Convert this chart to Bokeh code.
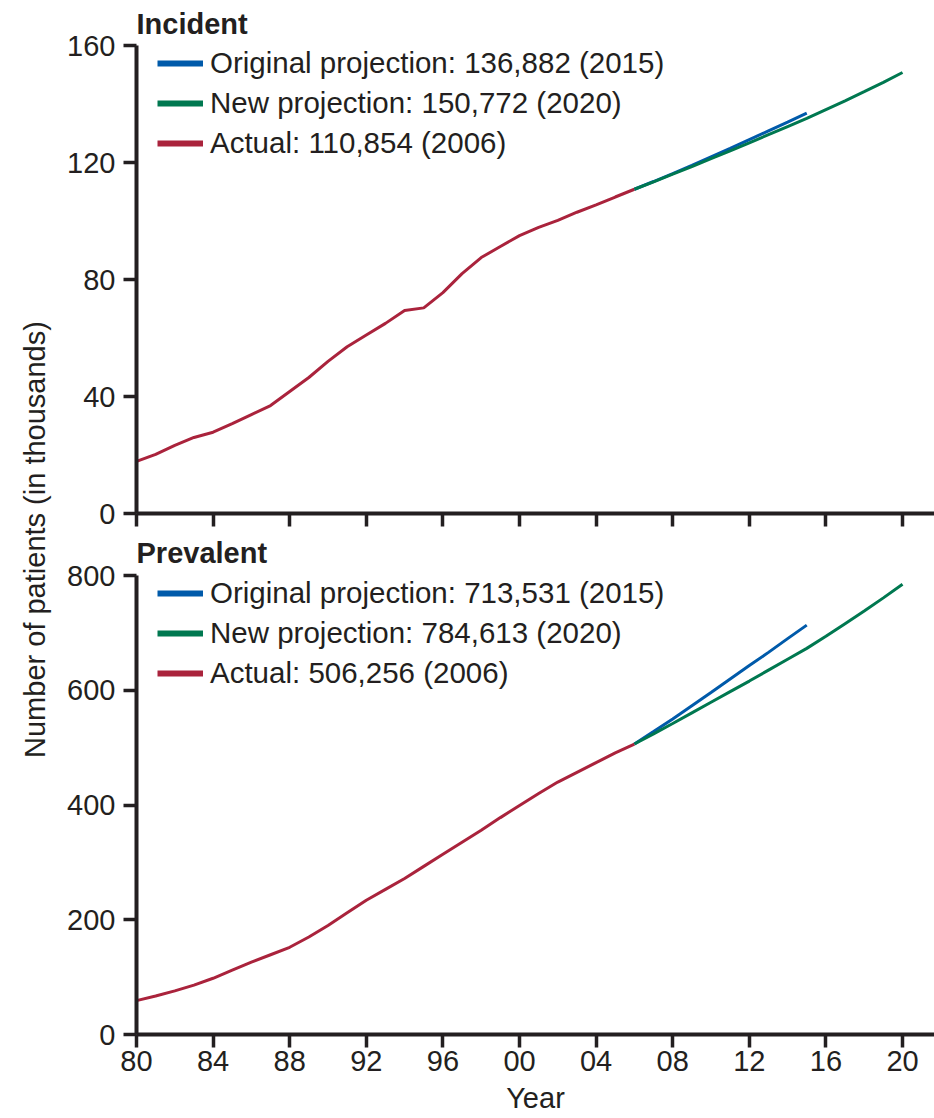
import math
from bokeh.plotting import figure
from bokeh.models import (Legend, LegendItem, FixedTicker, Label, Range1d,
                          CustomLabelingPolicy)
from bokeh.layouts import row, column
from bokeh.embed import file_html
from bokeh.resources import INLINE

# ---------------- data ----------------
years_actual = list(range(1980, 2007))
years_orig = list(range(2006, 2016))
years_new = list(range(2006, 2021))

incident_actual = [17.8, 20.2, 23.3, 26.0, 27.8, 30.7, 33.8, 36.9, 41.7, 46.5,
                   52.0, 57.0, 61.0, 65.0, 69.4, 70.3, 75.5, 82.0, 87.5, 91.3,
                   95.0, 97.8, 100.2, 103.0, 105.5, 108.2, 110.854]
incident_orig = [110.854, 113.5, 116.2, 119.0, 121.9, 124.8, 127.8, 130.8, 133.8, 136.882]
incident_new = [110.854, 113.4, 116.0, 118.6, 121.3, 124.0, 126.7, 129.5, 132.3, 135.1,
                138.1, 141.1, 144.2, 147.4, 150.772]

prevalent_actual = [59, 67, 76, 86, 98, 112, 126, 139, 152, 170,
                    190, 212, 234, 253, 272, 293, 314, 335, 356, 378,
                    399, 420, 440, 457, 474, 491, 506.256]
prevalent_orig = [506.256, 528, 550, 573, 596, 619.5, 643, 666, 690, 713.531]
prevalent_new = [506.256, 524, 542, 560.5, 579, 597.5, 616, 635, 654, 673,
                 694, 716, 738, 761, 784.613]

incident_labels = ["Original projection: 136,882 (2015)",
                   "New projection: 150,772 (2020)",
                   "Actual: 110,854 (2006)"]
prevalent_labels = ["Original projection: 713,531 (2015)",
                    "New projection: 784,613 (2020)",
                    "Actual: 506,256 (2006)"]

tick_years = [1980, 1984, 1988, 1992, 1996, 2000, 2004, 2008, 2012, 2016, 2020]
tick_labels = ["80", "84", "88", "92", "96", "00", "04", "08", "12", "16", "20"]
incident_ticks = [0, 40, 80, 120, 160]
prevalent_ticks = [0, 200, 400, 600, 800]

panel_titles = ["Incident", "Prevalent"]
y_label = "Number of patients (in thousands)"
x_label = "Year"

# ---------------- style ----------------
FONT = "Liberation Sans"
FS = "29px"
LFS = "29.5px"
TXT = "#231F20"
BLUE = "#005AAA"
GREEN = "#007850"
RED = "#AA233C"

x_range = Range1d(1980, 2021.67)


def style_axes(p, yticks):
    for ax in [p.xaxis[0], p.yaxis[0]]:
        ax.axis_line_color = TXT
        ax.axis_line_width = 4
        ax.major_tick_line_color = TXT
        ax.major_tick_line_width = 3.5
        ax.major_tick_out = 13
        ax.major_tick_in = 0
        ax.minor_tick_line_color = None
        ax.major_label_text_font = FONT
        ax.major_label_text_font_size = FS
        ax.major_label_text_color = TXT
    p.xaxis[0].ticker = FixedTicker(ticks=tick_years)
    p.xaxis[0].major_label_overrides = {t: l for t, l in zip(tick_years, tick_labels)}
    p.yaxis[0].ticker = FixedTicker(ticks=yticks)
    p.yaxis[0].major_label_standoff = 8
    p.xgrid.visible = False
    p.ygrid.visible = False
    p.outline_line_color = None


def make_panel(title, height, yend, yticks, actual, orig, new, labels,
               border_top, border_bottom, title_standoff, legend_loc, show_xlabels):
    p = figure(width=874, height=height, x_range=x_range, y_range=Range1d(0, yend),
               output_backend="svg", toolbar_location=None,
               min_border_left=76, min_border_right=0,
               min_border_top=border_top, min_border_bottom=border_bottom)
    p.title.text = title
    p.title.text_font = FONT
    p.title.text_font_size = FS
    p.title.text_font_style = "bold"
    p.title.text_color = TXT
    p.title.align = "left"
    p.title.standoff = title_standoff
    style_axes(p, yticks)
    if not show_xlabels:
        p.xaxis[0].major_label_text_font_size = "0px"
        p.xaxis[0].major_label_standoff = 0
        p.xaxis[0].major_label_policy = CustomLabelingPolicy(
            code="for (const i of [...indices]) { indices.unset(i) }")

    p.line(years_actual, actual, line_color=RED, line_width=3)
    p.line(years_orig, orig, line_color=BLUE, line_width=3)
    p.line(years_new, new, line_color=GREEN, line_width=3)

    # legend key proxies (single point -> nothing drawn in the plot, thick key line)
    lb = p.line(years_orig[:1], orig[:1], line_color=BLUE, line_width=6)
    lg = p.line(years_new[:1], new[:1], line_color=GREEN, line_width=6)
    lr = p.line(years_actual[:1], actual[:1], line_color=RED, line_width=6)
    legend = Legend(items=[LegendItem(label=labels[0], renderers=[lb]),
                           LegendItem(label=labels[1], renderers=[lg]),
                           LegendItem(label=labels[2], renderers=[lr])],
                    location=legend_loc, margin=0, padding=0, spacing=6,
                    glyph_width=46, glyph_height=32, label_height=32,
                    label_standoff=7, label_text_font=FONT,
                    label_text_font_size=LFS, label_text_color=TXT,
                    background_fill_alpha=0, border_line_alpha=0)
    p.add_layout(legend)
    return p


p1 = make_panel(panel_titles[0], 528, 160, incident_ticks, incident_actual,
                incident_orig, incident_new, incident_labels, 45, 15, 11, (21, 353), False)
p2 = make_panel(panel_titles[1], 588, 800, prevalent_ticks, prevalent_actual,
                prevalent_orig, prevalent_new, prevalent_labels, 43, 60, 13, (21, 344), True)
p2.xaxis[0].axis_label = x_label
p2.xaxis[0].axis_label_text_font = FONT
p2.xaxis[0].axis_label_text_font_size = FS
p2.xaxis[0].axis_label_text_font_style = "normal"
p2.xaxis[0].axis_label_text_color = TXT
p2.xaxis[0].axis_label_standoff = 8
p2.xaxis[0].major_label_standoff = 3

p0 = figure(width=60, height=1116, x_range=Range1d(0, 1), y_range=Range1d(0, 1),
            output_backend="svg", toolbar_location=None, min_border=0,
            x_axis_location=None, y_axis_location=None)
p0.xgrid.visible = False
p0.ygrid.visible = False
p0.outline_line_color = None
p0.add_layout(Label(x=0.583, y=0.517, text=y_label, angle=math.pi / 2,
                    text_align="center", text_baseline="middle",
                    text_font=FONT, text_font_size=FS, text_color=TXT))

layout = row(p0, column(p1, p2))
open("out.html", "w").write(file_html(layout, INLINE))
